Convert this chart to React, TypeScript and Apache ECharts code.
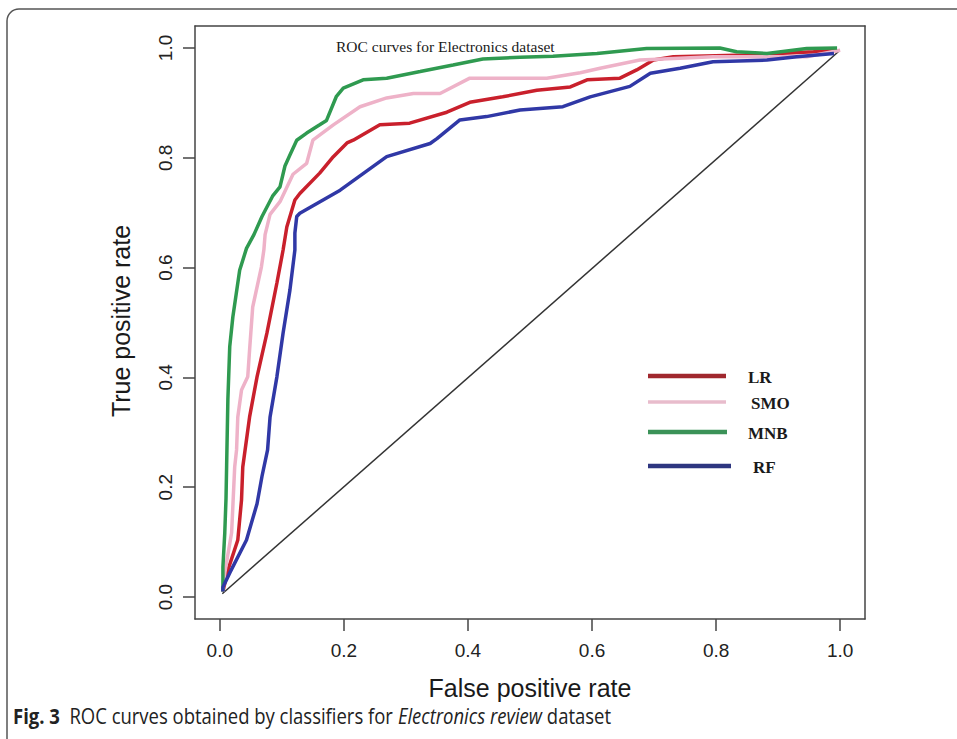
import React, { useEffect, useRef } from "react";
import * as echarts from "echarts";

const xTicks = [0, 0.2, 0.4, 0.6, 0.8, 1.0];
const yTicks = [0, 0.2, 0.4, 0.6, 0.8, 1.0];
const seriesNames = ["LR", "SMO", "MNB", "RF"];
const curveColors = ["#c9202c", "#eeb2c8", "#2f9a50", "#3038a6"];
const legendColors = ["#a0282e", "#e8bccc", "#3b9258", "#2e3680"];

const lrPoints = [
  [0.005, 0.01], [0.013, 0.049], [0.029, 0.104], [0.035, 0.177], [0.037, 0.237],
  [0.048, 0.328], [0.06, 0.401], [0.076, 0.481], [0.092, 0.572], [0.102, 0.632],
  [0.108, 0.674], [0.121, 0.723], [0.129, 0.735], [0.161, 0.772], [0.183, 0.802],
  [0.205, 0.827], [0.215, 0.832], [0.258, 0.86], [0.306, 0.863], [0.366, 0.883],
  [0.403, 0.901], [0.456, 0.911], [0.511, 0.923], [0.565, 0.929], [0.592, 0.942],
  [0.645, 0.945], [0.672, 0.96], [0.699, 0.978], [0.731, 0.984], [0.85, 0.987],
  [0.957, 0.993], [0.995, 0.996],
];

const smoPoints = [
  [0.005, 0.01], [0.008, 0.044], [0.019, 0.117], [0.024, 0.237], [0.027, 0.268],
  [0.029, 0.328], [0.035, 0.377], [0.045, 0.401], [0.048, 0.45], [0.053, 0.528],
  [0.067, 0.601], [0.071, 0.632], [0.073, 0.66], [0.081, 0.697], [0.097, 0.72],
  [0.118, 0.77], [0.14, 0.79], [0.15, 0.832], [0.183, 0.86], [0.226, 0.893],
  [0.269, 0.909], [0.312, 0.917], [0.355, 0.917], [0.403, 0.945], [0.527, 0.945],
  [0.581, 0.955], [0.613, 0.963], [0.677, 0.978], [0.795, 0.984], [0.946, 0.984],
  [1.0, 0.996],
];

const mnbPoints = [
  [0.005, 0.01], [0.005, 0.055], [0.008, 0.117], [0.01, 0.18], [0.011, 0.24],
  [0.013, 0.36], [0.016, 0.456], [0.021, 0.51], [0.032, 0.595], [0.043, 0.635],
  [0.055, 0.66], [0.068, 0.693], [0.085, 0.73], [0.097, 0.747], [0.105, 0.785],
  [0.113, 0.805], [0.124, 0.832], [0.14, 0.845], [0.161, 0.86], [0.172, 0.868],
  [0.188, 0.912], [0.199, 0.927], [0.231, 0.942], [0.269, 0.945], [0.323, 0.957],
  [0.376, 0.969], [0.424, 0.98], [0.484, 0.983], [0.537, 0.985], [0.608, 0.99],
  [0.688, 0.999], [0.806, 1.0], [0.833, 0.993], [0.882, 0.99], [0.946, 0.999],
  [0.995, 1.0],
];

const rfPoints = [
  [0.005, 0.01], [0.005, 0.018], [0.016, 0.044], [0.043, 0.104], [0.06, 0.17],
  [0.068, 0.22], [0.077, 0.268], [0.081, 0.328], [0.092, 0.401], [0.102, 0.481],
  [0.113, 0.559], [0.121, 0.632], [0.121, 0.663], [0.124, 0.693], [0.129, 0.699],
  [0.194, 0.741], [0.269, 0.802], [0.339, 0.826], [0.35, 0.835], [0.387, 0.869],
  [0.43, 0.875], [0.484, 0.887], [0.553, 0.893], [0.597, 0.911], [0.661, 0.93],
  [0.694, 0.954], [0.742, 0.963], [0.795, 0.975], [0.882, 0.978], [0.93, 0.984],
  [0.99, 0.99],
];

const diagonalPoints = [[0.004, 0.006], [0.997, 0.993]];

const plotTitle = "ROC curves for Electronics dataset";
const xTitle = "False positive rate";
const yTitle = "True positive rate";

export default function App() {
  const ref = useRef<HTMLDivElement>(null);
  useEffect(() => {
    if (!ref.current) return;
    const chart = echarts.init(ref.current, null, { renderer: "svg" });
    const curves = [lrPoints, smoPoints, mnbPoints, rfPoints];
    const sans = "'Liberation Sans', Arial, Helvetica, sans-serif";
    const serif = "'Liberation Serif', 'Times New Roman', serif";
    const boxLine = { show: true, onZero: false, lineStyle: { color: "#444", width: 1.5 } };

    const legendY = [376, 402, 432, 466];
    const legendLineEnd = [726, 726, 727, 731];
    const legendTextX = [748, 751, 748, 753];
    const legendGraphics: any[] = [];
    seriesNames.forEach((n, i) => {
      legendGraphics.push({
        type: "line",
        shape: { x1: 648, y1: legendY[i], x2: legendLineEnd[i], y2: legendY[i] },
        style: { stroke: legendColors[i], lineWidth: i === 1 ? 3.5 : 4.5 },
      });
      legendGraphics.push({
        type: "text",
        x: legendTextX[i],
        y: legendY[i] + 1,
        style: {
          text: n,
          font: `bold 17px ${serif}`,
          fill: "#1a1a1a",
          verticalAlign: "middle",
        },
      });
    });

    const hiddenAxisParts = {
      axisTick: { show: false },
      axisLabel: { show: false },
      splitLine: { show: false },
    };

    chart.setOption({
      animation: false,
      backgroundColor: "#ffffff",
      grid: {
        left: 195,
        right: 92,
        top: 26,
        bottom: 120,
        containLabel: false,
      },
      xAxis: [
        {
          type: "value",
          min: -0.04,
          max: 1.04,
          axisLine: boxLine,
          splitLine: { show: false },
          axisTick: {
            show: true,
            length: 12,
            customValues: xTicks,
            lineStyle: { color: "#444", width: 1.5 },
          },
          axisLabel: {
            customValues: xTicks,
            formatter: (v: number) => v.toFixed(1),
            fontSize: 19,
            fontFamily: sans,
            color: "#222",
            margin: 22,
          },
        },
        {
          type: "value",
          position: "top",
          min: -0.04,
          max: 1.04,
          axisLine: boxLine,
          ...hiddenAxisParts,
        },
      ],
      yAxis: [
        {
          type: "value",
          min: -0.04,
          max: 1.04,
          axisLine: boxLine,
          splitLine: { show: false },
          axisTick: {
            show: true,
            length: 12,
            customValues: yTicks,
            lineStyle: { color: "#444", width: 1.5 },
          },
          axisLabel: {
            customValues: yTicks,
            formatter: (v: number) => v.toFixed(1),
            fontSize: 19,
            fontFamily: sans,
            color: "#222",
            rotate: 90,
            margin: 20,
          },
        },
        {
          type: "value",
          position: "right",
          min: -0.04,
          max: 1.04,
          axisLine: boxLine,
          ...hiddenAxisParts,
        },
      ],
      series: [
        {
          type: "line",
          name: "diagonal",
          data: diagonalPoints,
          showSymbol: false,
          lineStyle: { color: "#333", width: 1.5 },
          z: 1,
        },
        ...seriesNames.map((n, i) => ({
          type: "line",
          name: n,
          data: curves[i],
          showSymbol: false,
          lineStyle: { color: curveColors[i], width: 3.5 },
          itemStyle: { color: curveColors[i] },
          z: 2 + i,
        })),
      ],
      graphic: [
        {
          type: "rect",
          shape: { x: 7, y: 9, width: 1000, height: 800, r: 12 },
          style: { fill: "none", stroke: "#555", lineWidth: 1.5 },
          silent: true,
        },
        {
          type: "text",
          x: 336,
          y: 46,
          style: {
            text: plotTitle,
            font: `15.5px ${serif}`,
            fill: "#1a1a1a",
            verticalAlign: "middle",
          },
        },
        {
          type: "text",
          x: 530,
          y: 688,
          style: {
            text: xTitle,
            font: `25px ${sans}`,
            fill: "#1a1a1a",
            align: "center",
            verticalAlign: "middle",
          },
        },
        {
          type: "text",
          x: 121,
          y: 321,
          rotation: Math.PI / 2,
          style: {
            text: yTitle,
            font: `25px ${sans}`,
            fill: "#1a1a1a",
            align: "center",
            verticalAlign: "middle",
          },
        },
        ...legendGraphics,
        {
          type: "text",
          x: 13,
          y: 716,
          scaleX: 0.88,
          style: {
            text: "{b|Fig. 3}  ROC curves obtained by classifiers for {i|Electronics review} dataset",
            font: `21px 'Open Sans', sans-serif`,
            fill: "#222",
            verticalAlign: "middle",
            rich: {
              b: { fontWeight: "bold", fontSize: 21, fontFamily: "'Open Sans', sans-serif", fill: "#222" },
              i: { fontStyle: "italic", fontSize: 21, fontFamily: "'Open Sans', sans-serif", fill: "#222" },
            },
          },
        },
      ],
    });
    return () => chart.dispose();
  }, []);
  return (
    <div
      ref={ref}
      style={{ position: "absolute", left: 0, top: 0, width: 957, height: 739 }}
    />
  );
}
